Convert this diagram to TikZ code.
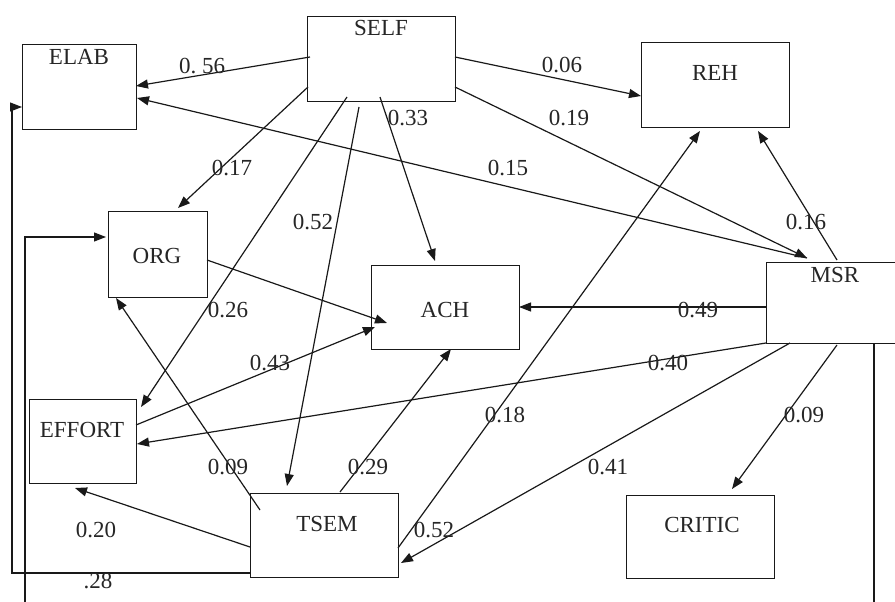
\documentclass[tikz,border=0pt]{standalone}
\usepackage{fontspec}
\setmainfont{Liberation Serif}
\usetikzlibrary{arrows.meta,calc}
\begin{document}
\begin{tikzpicture}[x=1pt,y=-1pt,
  box/.style={draw=black!90, line width=1.2pt, anchor=north west, inner sep=0pt},
  lbl/.style={inner sep=0pt, anchor=center, font=\fontsize{23}{26}\selectfont, text=black!85},
  conn/.style={draw=black!90, line width=1.2pt},
  arr/.style={conn, -{Triangle[length=12pt,width=9pt]}},
  ]
\useasboundingbox (0,0) rectangle (895,602);
\clip (0,0) rectangle (895,602);
\fill[white] (0,0) rectangle (895,602);
% boxes
\node[box, minimum width=114pt, minimum height=85pt] (elab) at (22,44) {};
\node[box, minimum width=148pt, minimum height=85pt] (self) at (307,16) {};
\node[box, minimum width=148pt, minimum height=85pt] (reh) at (641,42) {};
\node[box, minimum width=99pt, minimum height=86pt] (org) at (108,211) {};
\node[box, minimum width=148pt, minimum height=84pt] (ach) at (371,265) {};
\node[box, minimum width=160pt, minimum height=81pt] (msr) at (766,262) {};
\node[box, minimum width=107pt, minimum height=84pt] (effort) at (29,399) {};
\node[box, minimum width=148pt, minimum height=84pt] (tsem) at (250,493) {};
\node[box, minimum width=148pt, minimum height=83pt] (critic) at (626,495) {};
% box texts
\node[lbl] (elabT) at (79,57) {ELAB};
\node[lbl] (selfT) at (381,28) {SELF};
\node[lbl] (rehT) at (715,73) {REH};
\node[lbl] (orgT) at (157,256) {ORG};
\node[lbl] (achT) at (445,310) {ACH};
\node[lbl] (msrT) at (835,275) {MSR};
\node[lbl] (effortT) at (82,430) {EFFORT};
\node[lbl] (tsemT) at (327,524) {TSEM};
\node[lbl] (criticT) at (702,525) {CRITIC};
% connectors
\draw[arr] ($(self.north west)+(3,41)$) -- ($(elab.north west)+(114,42)$);
\draw[arr] ($(self.north west)+(1,71)$) -- ($(org.north west)+(70,-3)$);
\draw[arr] ($(self.north west)+(40,81)$) -- ($(effort.north west)+(112,8)$);
\draw[arr] ($(self.north west)+(52,91)$) -- ($(tsem.north west)+(37,-7)$);
\draw[arr] ($(self.north west)+(73,81)$) -- ($(ach.north west)+(64,-4)$);
\draw[arr] ($(self.north west)+(148,41)$) -- ($(reh.north west)+(0,54)$);
\draw[arr] ($(self.north west)+(148,71)$) -- ($(msr.north west)+(41,-4)$);
\draw[arr] ($(msr.north west)+(41,-4)$) -- ($(elab.north west)+(115,54)$);
\draw[arr] ($(msr.north west)+(71,-2)$) -- ($(reh.north west)+(117,89)$);
\draw[arr] ($(tsem.north west)+(148,55)$) -- ($(reh.north west)+(59,89)$);
\draw[arr] ($(msr.north west)+(0,45)$) -- ($(ach.north west)+(148,42)$);
\draw[arr] ($(msr.north west)+(0,81)$) -- ($(effort.north west)+(108,45)$);
\draw[arr] ($(msr.north west)+(24,81)$) -- ($(tsem.north west)+(151,70)$);
\draw[arr] ($(msr.north west)+(71,83)$) -- ($(critic.north west)+(106,-6)$);
\draw[arr] ($(org.north west)+(99,49)$) -- ($(ach.north west)+(16,58)$);
\draw[arr] ($(effort.north west)+(107,26)$) -- ($(ach.north west)+(4,62)$);
\draw[arr] ($(tsem.north west)+(90,-1)$) -- ($(ach.north west)+(80,84)$);
\draw[arr] ($(tsem.north west)+(10,17)$) -- ($(org.north west)+(8,87)$);
\draw[arr] ($(tsem.north west)+(0,54)$) -- ($(effort.north west)+(46,89)$);
\draw[arr] ($(tsem.north west)+(0,80)$) -- ++(-238,0) |- ($(elab.north west)+(0,63)$);
\draw[arr] ($(msr.north west)+(108,81)$) -- ++(0,262) -- ++(-849,0) |- ($(org.north west)+(-2,26)$);
% labels
\node[lbl] (l056) at (202,66) {0.\ 56};
\node[lbl] (l017) at (232,168) {0.17};
\node[lbl] (l033) at (408,118) {0.33};
\node[lbl] (l052a) at (313,222) {0.52};
\node[lbl] (l006) at (562,65) {0.06};
\node[lbl] (l019) at (569,118) {0.19};
\node[lbl] (l015) at (508,168) {0.15};
\node[lbl] (l016) at (806,222) {0.16};
\node[lbl] (l026) at (228,310) {0.26};
\node[lbl] (l043) at (270,363) {0.43};
\node[lbl] (l009a) at (228,467) {0.09};
\node[lbl] (l029) at (368,467) {0.29};
\node[lbl] (l020) at (96,530) {0.20};
\node[lbl] (l028) at (98,581) {.28};
\node[lbl] (l052b) at (434,530) {0.52};
\node[lbl] (l049) at (698,310) {0.49};
\node[lbl] (l040) at (668,363) {0.40};
\node[lbl] (l018) at (505,415) {0.18};
\node[lbl] (l041) at (608,467) {0.41};
\node[lbl] (l009b) at (804,415) {0.09};
\end{tikzpicture}
\end{document}
